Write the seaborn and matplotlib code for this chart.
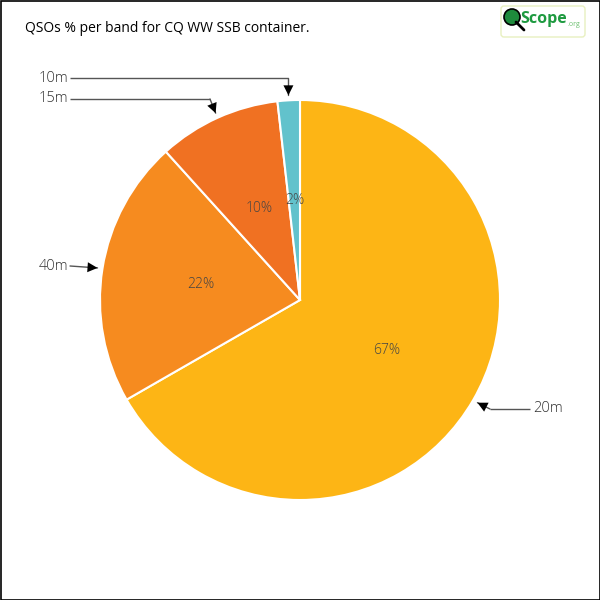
import numpy as np
import matplotlib
matplotlib.use("Agg")
import matplotlib.pyplot as plt
import seaborn as sns
from matplotlib.patches import Rectangle, FancyBboxPatch, Circle

# ---- data ----
bands = ["20m", "40m", "15m", "10m"]
shares = [66.7, 21.6, 9.9, 1.8]
colors = ["#FDB515", "#F68B1F", "#F07122", "#62C2CC"]
title = "QSOs % per band for CQ WW SSB container."

sns.set_theme(style="white")
plt.rcParams["font.family"] = ["Open Sans", "DejaVu Sans"]

fig = plt.figure(figsize=(6, 6), dpi=100)
ax = fig.add_axes([0, 0, 1, 1])
ax.set_xlim(0, 600)
ax.set_ylim(0, 600)
ax.set_aspect("equal")
ax.axis("off")

cx, cy, R = 300, 300, 200
wedges, texts, autotexts = ax.pie(
    shares, colors=colors, startangle=90, counterclock=False,
    center=(cx, cy), radius=R, autopct="%.0f%%", pctdistance=0.5,
    wedgeprops=dict(edgecolor="white", linewidth=1.5),
    textprops=dict(color="#444444", fontsize=10, fontweight="light"),
)
ax.set_xlim(0, 600)
ax.set_ylim(0, 600)

# label layout: (text x, text y in pixels from top, elbow x, ha)
layout = {
    "10m": (70, 78, None, "right"),
    "15m": (70, 99, 210, "right"),
    "40m": (70, 266, None, "right"),
    "20m": (530, 409, 490, "left"),
}
for w, b in zip(wedges, bands):
    mid = np.deg2rad((w.theta1 + w.theta2) / 2)
    tip = (cx + (R + 5) * np.cos(mid), cy + (R + 5) * np.sin(mid))
    tx, ty_px, ex, ha = layout[b]
    ty = 600 - ty_px
    if b == "10m":
        elbow = (tip[0], ty)
    elif ex is None:
        elbow = (tx, ty)
    else:
        elbow = (ex, ty)
    ax.plot([tx, elbow[0]], [ty, elbow[1]], color="#555555", lw=1, solid_capstyle="butt")
    ax.plot([elbow[0], tip[0]], [elbow[1], tip[1]], color="#555555", lw=1)
    ax.annotate("", xy=tip, xytext=elbow,
                arrowprops=dict(arrowstyle="-|>,head_length=0.6,head_width=0.3",
                                color="black", lw=0, shrinkA=0, shrinkB=0))
    ax.text(tx + (-2 if ha == "right" else 3), ty, b, ha=ha, va="center",
            fontsize=10.5, color="#333333", fontweight="light")

# title
fig.text(25 / 600, 1 - 28 / 600, title, ha="left", va="center",
         fontsize=10, color="black")

# logo
logo = FancyBboxPatch((501 / 600, 1 - 37 / 600), 84 / 600, 31 / 600,
                      boxstyle="round,pad=0,rounding_size=0.005",
                      transform=fig.transFigure, facecolor="white",
                      edgecolor="#E8F0C0", lw=1)
fig.add_artist(logo)
fig.add_artist(Circle((512 / 600, 1 - 17 / 600), 8 / 600, transform=fig.transFigure,
                      facecolor="#1E8A3C", edgecolor="black", lw=1.2))
fig.add_artist(plt.Line2D([516 / 600, 524 / 600], [1 - 22 / 600, 1 - 30 / 600],
                          transform=fig.transFigure, color="black", lw=2))
fig.text(520 / 600, 1 - 19 / 600, "Scope", ha="left", va="center",
         fontsize=11.5, color="#1E9A40", fontweight="bold")
fig.text(567 / 600, 1 - 25 / 600, ".org", ha="left", va="center",
         fontsize=5, color="#6CC070")

# figure border
fig.add_artist(Rectangle((0.5 / 600, 0.5 / 600), 599 / 600, 599 / 600,
                         transform=fig.transFigure, fill=False,
                         edgecolor="black", lw=1.2))

fig.savefig("out.png", dpi=100)
